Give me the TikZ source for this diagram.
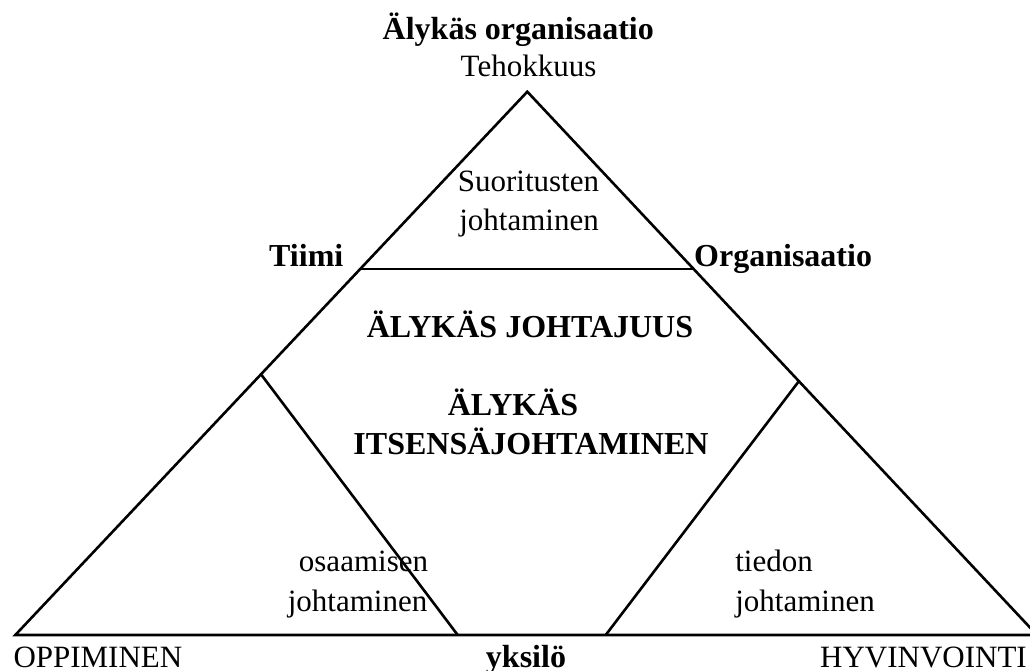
\documentclass[tikz,border=0pt]{standalone}
\usepackage{fontspec}
\setmainfont{Liberation Serif}
\begin{document}
\begin{tikzpicture}[x=1pt,y=-1pt,
  edge/.style={line width=2.6pt, line join=miter},
  lbl/.style={inner sep=0pt, anchor=base, font=\fontsize{31}{36}\selectfont},
  lblb/.style={inner sep=0pt, anchor=base, font=\fontsize{32}{37}\selectfont\bfseries},
  lblw/.style={lbl, anchor=base west},
  lblbw/.style={lblb, anchor=base west}]
\useasboundingbox (0,0) rectangle (1030,671);

% corners of the pyramid
\coordinate (apex) at (527.3,91.7);
\coordinate (bl) at (15.3,635);
\coordinate (br) at (1037,635);
% horizontal division under the top triangle
\coordinate (hl) at (360,269);
\coordinate (hr) at (693.5,269);
% lower corner triangles
\coordinate (lj) at (261.5,375);
\coordinate (lb) at (457.7,635);
\coordinate (rj) at (798.5,381.7);
\coordinate (rb) at (605.7,635);

\begin{scope}
\clip (0,0) rectangle (1030,671);
\draw[edge] (bl) -- (apex) -- (br) -- cycle;
\draw[edge] (hl) -- (hr);
\draw[edge] (lj) -- (lb);
\draw[edge] (rj) -- (rb);
\end{scope}

% labels
\node[lblb] (org) at (518.3,40) {Älykäs organisaatio};
\node[lbl] (teho) at (528.5,77) {Tehokkuus};
\node[lbl] (suor1) at (528.5,192) {Suoritusten};
\node[lbl] (suor2) at (529,230) {johtaminen};
\node[lblbw] (tiimi) at (269,266) {Tiimi};
\node[lblbw] (organ) at (694,266) {Organisaatio};
\node[lblb] (jht) at (530,337) {ÄLYKÄS JOHTAJUUS};
\node[lblb] (its1) at (513,415) {ÄLYKÄS};
\node[lblb] (its2) at (531,454) {ITSENSÄJOHTAMINEN};
\node[lbl] (osa1) at (363.5,571) {osaamisen};
\node[lbl] (osa2) at (357.5,611) {johtaminen};
\node[lbl] (tie1) at (774,571) {tiedon};
\node[lbl] (tie2) at (805,611) {johtaminen};
\node[lblw] (opp) at (13.3,667) {OPPIMINEN};
\node[lblb] (yks) at (526,667) {yksilö};
\node[lblw] (hyv) at (820,667) {HYVINVOINTI};
\end{tikzpicture}
\end{document}
